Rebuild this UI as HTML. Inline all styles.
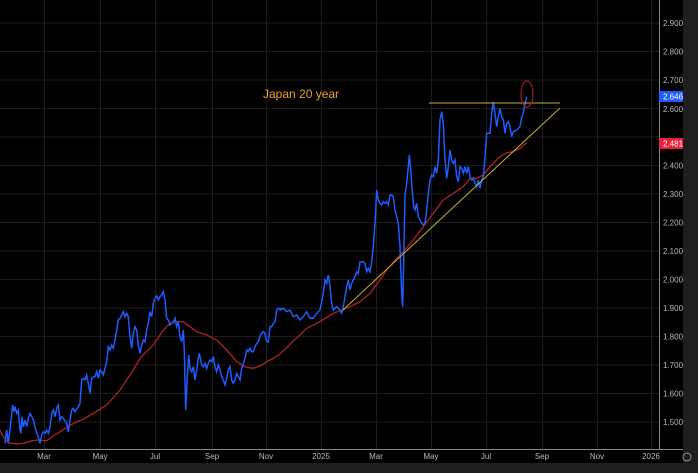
<!DOCTYPE html>
<html><head><meta charset="utf-8"><style>
html,body{margin:0;padding:0;background:#000;}
svg{display:block;font-family:"Liberation Sans",sans-serif;}
</style></head><body>
<svg id="s" width="698" height="473" xmlns="http://www.w3.org/2000/svg">
<rect width="698" height="473" fill="#000"/>
<rect x="683" y="0" width="15" height="473" fill="#1e1e1e"/>
<rect x="0" y="463" width="698" height="10" fill="#1e1e1e"/>
<g id="grid" stroke="#1c1c1c" stroke-width="1"></g>
<line x1="659.5" y1="0" x2="659.5" y2="449" stroke="#888" stroke-width="1"/>
<line x1="0" y1="449.5" x2="683" y2="449.5" stroke="#888" stroke-width="1"/>
<g id="ylab" fill="#b8b8b8" font-size="8"></g>
<g id="xlab" fill="#b8b8b8" font-size="8"></g>
<polyline id="red" fill="none" stroke="#b0202a" stroke-width="1.3"/>
<polyline id="blue" fill="none" stroke="#1e5cff" stroke-width="1.5"/>
<line x1="343" y1="310" x2="560" y2="108" stroke="#c8b030" stroke-width="1"/>
<line x1="429" y1="103" x2="560" y2="103" stroke="#c8b030" stroke-width="1"/>
<ellipse cx="527" cy="94" rx="6" ry="13" fill="none" stroke="#a01828" stroke-width="1.2"/>
<text x="263" y="98" fill="#f0a020" font-size="12">Japan 20 year</text>
<rect x="659" y="91" width="24" height="11" fill="#1e5cff"/>
<text x="663" y="99.5" fill="#fff" font-size="8">2.646</text>
<rect x="659" y="138" width="24" height="11" fill="#e8203a"/>
<text x="663" y="146.5" fill="#fff" font-size="8">2.481</text>
<circle cx="687" cy="457" r="4" fill="none" stroke="#aaa" stroke-width="0.8"/>
</svg>
<script>
const NS="http://www.w3.org/2000/svg";
function el(p,t,a,txt){const e=document.createElementNS(NS,t);for(const k in a)e.setAttribute(k,a[k]);if(txt)e.textContent=txt;document.getElementById(p).appendChild(e);}
const xs=[44,100,155,212,266,321,376,431,486,542,597,651],xl=["Mar","May","Jul","Sep","Nov","2025","Mar","May","Jul","Sep","Nov","2026"];
xs.forEach((x,i)=>{el("grid","line",{x1:x+.5,y1:0,x2:x+.5,y2:449});el("xlab","text",{x:x,y:459,"text-anchor":"middle"},xl[i]);});
for(let v=1.5;v<=2.901;v+=0.1){const y=422-(v-1.5)*285;el("grid","line",{x1:0,y1:y,x2:659,y2:y});
 if(Math.abs(v-2.6)>0.01 && Math.abs(v-2.5)>0.01) el("ylab","text",{x:663,y:y+3},v.toFixed(3));}
el("ylab","text",{x:663,y:112},"2.600");
const b3=[15,490,20,450,25,490,32,430,38,375,42,395,45,380,50,400,55,390,60,450,63,460,66,410,70,440,75,420,80,440,85,415,90,400,95,410,100,420,105,440,110,460,115,470,120,490,125,465,130,455,135,460,140,450,145,460,150,440,155,400,160,390,165,410,170,385,175,375,180,420,185,410,190,415,200,430,205,455,210,420,215,390,220,385,225,395,235,380,240,370,245,300,250,295,255,300,260,285,265,310,270,340,275,295,280,290,285,290,290,275,295,295,300,270,305,275,310,285,315,265,320,245,325,200,330,210,335,195,340,205,345,180,350,150,355,120,360,115,365,105,370,95,375,110,380,100,385,110,390,170,395,205,400,160,405,140,410,150,415,195,420,220,425,195,430,180,435,185,440,150,445,130,450,95,455,110,460,70,465,55,470,48,475,60,480,50,485,45,490,35,495,60,500,115,505,120,510,135,515,130,520,125,525,115,530,140,535,125,540,170,545,185,550,150,553,210,557,390,562,290,566,225,570,265,575,275,580,260,585,300,590,270,595,235,598,220,605,255,610,260,615,250,620,265,625,250,630,240,635,245,640,230,645,260,650,275,655,255,660,270,665,290,670,300,675,315,680,295,685,270,690,260,695,300,700,310,705,300,710,280,715,290,720,300,725,265,735,235,740,210,745,215,750,205,755,215,760,215,765,200,770,190,775,185,780,170,785,160,790,155,795,160,800,185,805,185,810,140,815,140,820,130,825,125,830,90,835,85,840,85];
const b4=[60,690,70,685,80,695,90,690,100,710,110,705,120,720,130,710,140,695,150,715,160,715,170,700,180,690,185,665,190,640,195,600,200,610,205,585,210,620,215,670,220,690,230,680,240,690,245,700,250,680,255,650,260,620,265,600,270,630,275,610,280,600,285,590,290,575,295,580,300,545,310,545,315,550,320,575,325,565,330,575,335,545,340,500,345,430,350,330,355,360,360,370,365,375,370,365,375,370,380,365,385,375,390,345,395,345,400,350,405,390,410,410,415,430,420,500,425,640,428,680,432,500,435,345,440,310,445,260,448,225,452,270,458,350,462,385,465,390,470,370,475,410,480,420,485,430,490,435,495,430,500,390,505,340,510,300,515,285,520,290,525,260,530,280,535,240,540,120,545,95,550,130,555,240,560,295,565,260,570,210,575,240,580,250,585,240,590,290,595,305,600,260,605,265,610,280,615,260,620,280,625,260,630,290,635,300,640,295,645,310,650,320,655,300,660,325,665,300,670,290,675,230,680,160,690,160,695,100,700,65,705,100,710,140,715,110,720,85,725,110,730,120,735,160,740,130,745,125,750,140,755,170,760,155,770,150,780,140,785,110,790,100,795,70,800,50];
const r3=[0,450,10,470,25,488,50,492,70,490,90,484,110,480,140,482,160,468,180,455,200,442,230,425,250,418,280,400,320,375,360,330,400,270,420,235,460,195,490,150,510,130,530,125,550,125,570,140,590,155,620,165,650,180,680,210,710,245,740,262,760,265,780,258,800,245,820,235,840,222];
const r4=[140,745,180,725,220,700,260,685,300,665,330,640,360,600,380,570,410,535,430,515,460,480,490,440,520,400,550,360,580,340,610,320,630,295,650,295,670,285,690,260,720,230,740,218,760,215,780,205,800,188];
function conv(a,ox,oy){const o=[];for(let i=0;i<a.length;i+=2)o.push((ox+a[i]/3).toFixed(1)+","+(oy+a[i+1]/3).toFixed(1));return o;}
document.getElementById("blue").setAttribute("points",conv(b3,0,280).concat(conv(b4,260,80)).join(" "));
document.getElementById("red").setAttribute("points",conv(r3,0,280).concat(conv(r4,260,80)).join(" "));
</script>
</body></html>
